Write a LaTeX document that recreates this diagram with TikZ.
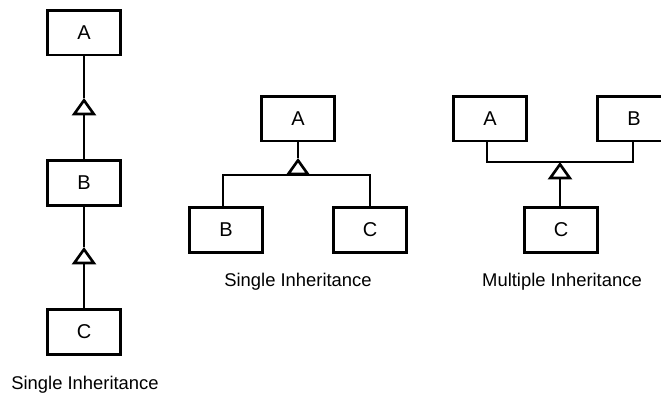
\documentclass[tikz,border=0pt]{standalone}
\usepackage{fontspec}
\setmainfont{Liberation Sans}
\usetikzlibrary{arrows.meta}

\tikzset{every picture/.style={line width=2pt}}
\tikzset{
  cls/.style={draw, line width=2pt, minimum width=55pt, minimum height=33.5pt, inner sep=0pt, font=\fontsize{15}{18}\selectfont},
  caption/.style={font=\fontsize{13.8}{16}\selectfont},
  link/.style={line width=2pt},
  inherit/.style={link, -{Triangle[open, length=13pt, width=18pt, line width=2pt]}}
}

\begin{document}
\begin{tikzpicture}[x=0.75pt,y=0.75pt,yscale=-1,xscale=1]
	\useasboundingbox (0,0) rectangle (661,396);

	% Single inheritance chain
	\node[cls] (A1) at (84,32.5) {A};
	\node[cls] (B1) at (84,183) {B};
	\node[cls] (C1) at (84,332) {C};
	\coordinate (t1) at (84,98);
	\coordinate (t2) at (84,247);
	\draw[inherit] (B1.north) -- (t1);
	\draw[link] (t1) -- (A1.south);
	\draw[inherit] (C1.north) -- (t2);
	\draw[link] (t2) -- (B1.south);

	% Single inheritance tree
	\node[cls] (A2) at (298,118.5) {A};
	\node[cls] (B2) at (226,230) {B};
	\node[cls] (C2) at (370,230) {C};
	\coordinate (m2) at (298,175);
	\coordinate (t3) at (298,158);
	\draw[link] ([xshift=-2.25pt]B2.north) |- (m2) -| (C2.north);
	\draw[inherit] (m2) -- (t3);
	\draw[link] (t3) -- (A2.south);

	% Multiple inheritance
	\node[cls] (A3) at (490,118.5) {A};
	\node[cls] (B3) at (634,118.5) {B};
	\node[cls] (C3) at (561,230) {C};
	\coordinate (m3) at (560,162);
	\draw[link] ([xshift=-2.25pt]A3.south) |- (m3) -| ([xshift=-0.75pt]B3.south);
	\draw[inherit] ([xshift=-0.75pt]C3.north) -- (m3);

	% Text Node
	\node[caption] (cap1) at (85,385) {Single Inheritance};
	% Text Node
	\node[caption] (cap2) at (298,282) {Single Inheritance};
	% Text Node
	\node[caption] (cap3) at (562,282) {Multiple Inheritance};
\end{tikzpicture}
\end{document}
